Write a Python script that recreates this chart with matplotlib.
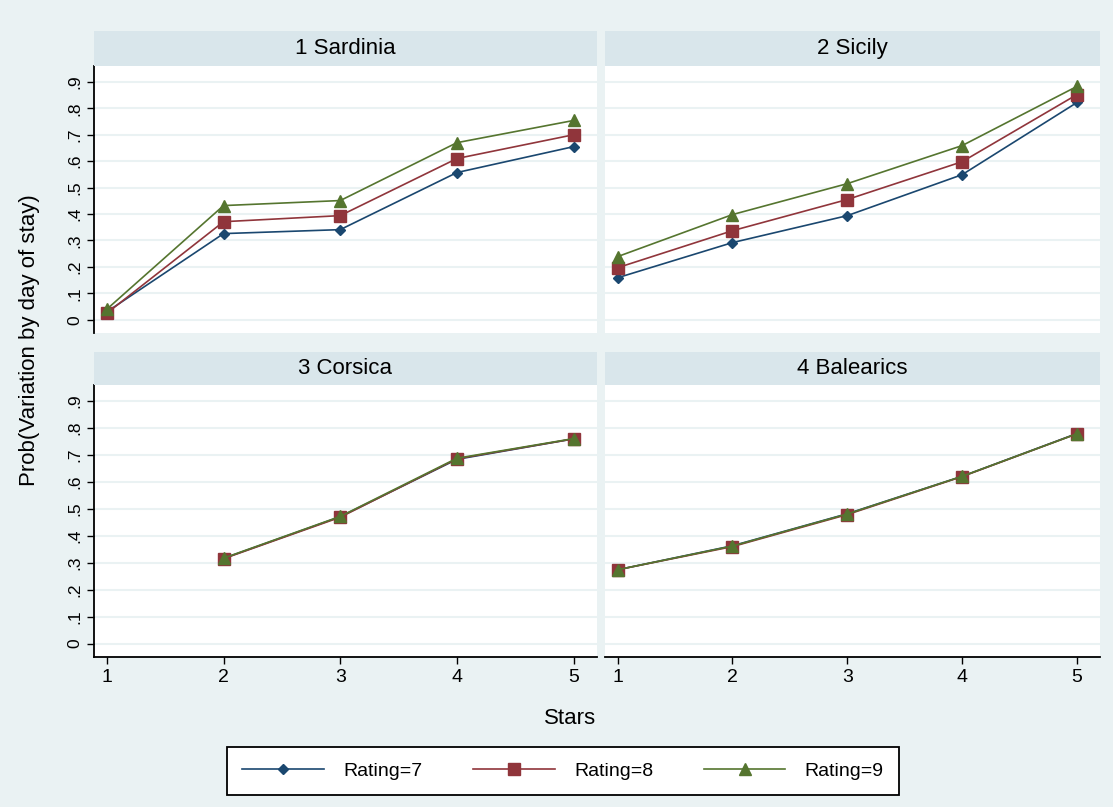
import matplotlib.pyplot as plt
import numpy as np

plt.rcParams['font.family'] = ['Liberation Sans', 'DejaVu Sans']

stars = [1, 2, 3, 4, 5]
regions = ["1 Sardinia", "2 Sicily", "3 Corsica", "4 Balearics"]
ratings = ["Rating=7", "Rating=8", "Rating=9"]

# predicted probabilities per region, one list per rating
sardinia = [[0.030, 0.326, 0.341, 0.557, 0.655],
            [0.025, 0.371, 0.394, 0.610, 0.700],
            [0.040, 0.432, 0.451, 0.670, 0.754]]
sicily = [[0.159, 0.292, 0.394, 0.549, 0.822],
          [0.197, 0.337, 0.455, 0.598, 0.852],
          [0.239, 0.398, 0.515, 0.659, 0.883]]
corsica = [[np.nan, 0.316, 0.471, 0.684, 0.760],
           [np.nan, 0.315, 0.469, 0.686, 0.760],
           [np.nan, 0.317, 0.472, 0.688, 0.761]]
balearics = [[0.274, 0.363, 0.482, 0.621, 0.780],
             [0.274, 0.360, 0.479, 0.620, 0.779],
             [0.274, 0.362, 0.481, 0.621, 0.779]]
all_data = [sardinia, sicily, corsica, balearics]

colors = ["#1a476f", "#90353b", "#55752f"]
markers = ["D", "s", "^"]
msizes = [5, 8, 8]

bg = "#eaf2f3"
strip_col = "#d9e6eb"

W, H = 1113, 807
fig = plt.figure(figsize=(W / 100, H / 100), dpi=100, facecolor=bg)

# pixel boxes: (left, right, strip_top, plot_top, plot_bottom)
cols = [(94, 597), (605, 1100)]
rows = [(31, 66, 333), (352, 385, 657)]

yticks = np.arange(0, 1.0, 0.1)
ylabels = ["0"] + ["." + str(i) for i in range(1, 10)]

handles = []
for k in range(4):
    r, c = divmod(k, 2)
    x0, x1 = cols[c]
    st, pt, pb = rows[r]
    ax = fig.add_axes([x0 / W, 1 - pb / H, (x1 - x0) / W, (pb - pt) / H])
    sx = fig.add_axes([x0 / W, 1 - pt / H, (x1 - x0) / W, (pt - st) / H])
    sx.set_facecolor(strip_col)
    sx.set_xticks([])
    sx.set_yticks([])
    for s in sx.spines.values():
        s.set_visible(False)
    sx.text(0.5, 0.5, regions[k], ha='center', va='center', fontsize=16,
            transform=sx.transAxes)

    ax.set_facecolor("white")
    ax.set_xlim(0.89, 5.2)
    ax.set_ylim(-0.05, 0.96)
    ax.set_yticks(yticks)
    for y in yticks:
        ax.axhline(y, color=bg, lw=1.5, zorder=0)
    for i in range(3):
        h, = ax.plot(stars, all_data[k][i], color=colors[i], marker=markers[i],
                     ms=msizes[i], lw=1.2, label=ratings[i], zorder=3 + i)
        handles.append(h)

    for s in ["top", "right"]:
        ax.spines[s].set_visible(False)
    if c == 0:
        ax.spines["left"].set_linewidth(1.3)
        ax.set_yticklabels(ylabels, rotation=90, va='center', fontsize=12.5)
        ax.tick_params(axis='y', length=5, width=1)
    else:
        ax.spines["left"].set_visible(False)
        ax.tick_params(axis='y', left=False, labelleft=False)
    if r == 1:
        ax.spines["bottom"].set_linewidth(1.3)
        ax.set_xticks(stars)
        ax.tick_params(axis='x', length=5, width=1, labelsize=14)
    else:
        ax.spines["bottom"].set_visible(False)
        ax.tick_params(axis='x', bottom=False, labelbottom=False)

fig.text(30 / W, 1 - 340 / H, "Prob(Variation by day of stay)", rotation=90,
         ha='center', va='center', fontsize=16)
fig.text(570 / W, 1 - 718 / H, "Stars", ha='center', va='center', fontsize=16)

leg = fig.legend(handles[:3], ratings, loc='center', ncol=3,
                 bbox_to_anchor=(563 / W, 1 - 771 / H), fontsize=14,
                 handlelength=4.2, columnspacing=2.6, handletextpad=1.0,
                 fancybox=False, edgecolor='black', framealpha=1,
                 borderpad=0.8)
leg.get_frame().set_linewidth(1.3)

fig.savefig("out.png", dpi=100, facecolor=bg)
